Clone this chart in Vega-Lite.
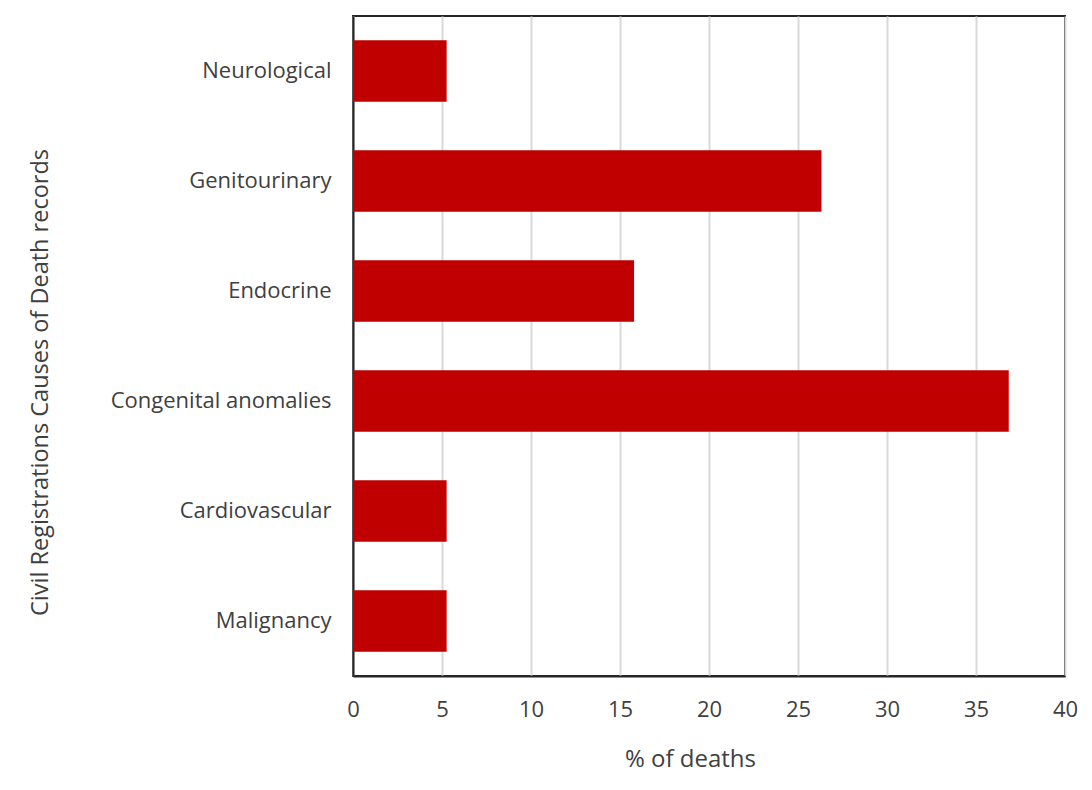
{
  "$schema": "https://vega.github.io/schema/vega-lite/v6.json",
  "autosize": "none",
  "width": 712,
  "height": 660,
  "padding": {"left": 353, "top": 16, "right": 27, "bottom": 114},
  "background": "white",
  "data": {
    "values": [
      {"cause": "Neurological", "pct": 5.26},
      {"cause": "Genitourinary", "pct": 26.32},
      {"cause": "Endocrine", "pct": 15.79},
      {"cause": "Congenital anomalies", "pct": 36.84},
      {"cause": "Cardiovascular", "pct": 5.26},
      {"cause": "Malignancy", "pct": 5.26}
    ]
  },
  "mark": {"type": "bar", "color": "#C00000"},
  "encoding": {
    "y": {
      "field": "cause",
      "type": "nominal",
      "sort": null,
      "scale": {"paddingInner": 0.44, "paddingOuter": 0.22},
      "axis": {
        "title": "Civil Registrations Causes of Death records",
        "ticks": false,
        "domain": true,
        "domainColor": "#262626",
        "domainWidth": 2,
        "labelPadding": 22,
        "labelLimit": 400,
        "labelFontSize": 22,
        "labelColor": "#404040",
        "titleFontSize": 23.5,
        "titleFontWeight": "normal",
        "titleColor": "#404040",
        "titlePadding": 101,
        "titleY": 366
      }
    },
    "x": {
      "field": "pct",
      "type": "quantitative",
      "scale": {"domain": [0, 40], "nice": false},
      "axis": {
        "title": "% of deaths",
        "values": [0, 5, 10, 15, 20, 25, 30, 35, 40],
        "ticks": false,
        "domain": true,
        "domainColor": "#262626",
        "domainWidth": 2,
        "labelFlush": false,
        "labelPadding": 23,
        "labelFontSize": 22,
        "labelColor": "#404040",
        "titleFontSize": 24,
        "titleFontWeight": "normal",
        "titleColor": "#404040",
        "titlePadding": 27,
        "titleX": 337,
        "gridColor": "#d9d9d9",
        "gridWidth": 2
      }
    }
  },
  "config": {
    "font": "Open Sans",
    "view": {"stroke": "#262626", "strokeWidth": 2},
    "axisY": {"grid": false}
  }
}
